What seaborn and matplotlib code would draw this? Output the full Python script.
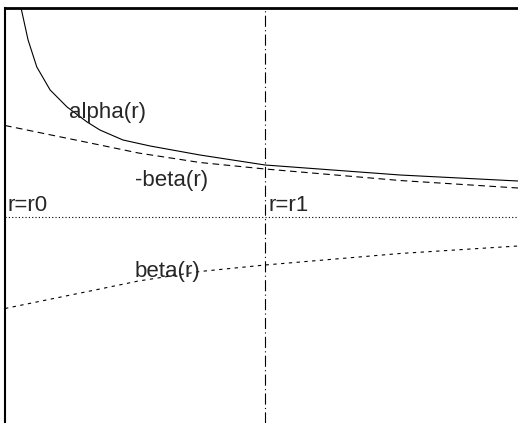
import pandas as pd
import matplotlib.pyplot as plt
import seaborn as sns

# curve samples (r in arbitrary units, r1 ~ 5.07)
r_alpha = [0.30, 0.45, 0.62, 0.88, 1.21, 1.60, 1.85, 2.30, 2.83, 3.80, 5.07, 7.70, 10.0]
alpha = [2.12, 1.77, 1.50, 1.27, 1.10, 0.95, 0.87, 0.77, 0.71, 0.62, 0.52, 0.42, 0.36]

r_beta = [0.0, 0.9, 1.85, 2.6, 3.8, 5.07, 7.7, 10.0]
beta = [-0.915, -0.82, -0.72, -0.64, -0.545, -0.48, -0.365, -0.29]

r0_level = 0.0
r1 = 5.07

sns.set_style("white")
plt.rcParams["font.family"] = ["Liberation Sans", "DejaVu Sans"]

fig = plt.figure(figsize=(5.18, 4.23), dpi=100)
ax = fig.add_axes([5 / 518, 0.0, 1 - 5 / 518, 1 - 8 / 423])

df_alpha = pd.DataFrame({"r": r_alpha, "v": alpha})
df_beta = pd.DataFrame({"r": r_beta, "v": beta})
df_mbeta = pd.DataFrame({"r": r_beta, "v": [-b for b in beta]})

sns.lineplot(data=df_alpha, x="r", y="v", ax=ax, color="black", lw=0.8)
sns.lineplot(data=df_mbeta, x="r", y="v", ax=ax, color="black", lw=0.8,
             linestyle=(0, (6, 4)))
sns.lineplot(data=df_beta, x="r", y="v", ax=ax, color="black", lw=0.8,
             linestyle=(0, (3, 4)))

ax.axhline(r0_level, color="black", lw=0.8, linestyle=(0, (1, 2)))
ax.axvline(r1, color="black", lw=0.8, linestyle=(0, (10, 3, 1, 3)))

ax.text(1.25, 1.05, "alpha(r)", fontsize=16, va="center", ha="left")
ax.text(2.53, 0.37, "-beta(r)", fontsize=16, va="center", ha="left")
ax.text(2.53, -0.54, "beta(r)", fontsize=16, va="center", ha="left")
ax.text(0.04, 0.01, "r=r0", fontsize=16, va="bottom", ha="left")
ax.text(5.13, 0.01, "r=r1", fontsize=16, va="bottom", ha="left")

ax.set_xlim(0, 10)
ax.set_ylim(-2.06, 2.09)
ax.set_xticks([])
ax.set_yticks([])
ax.set_xlabel("")
ax.set_ylabel("")
ax.spines["right"].set_visible(False)
ax.spines["bottom"].set_visible(False)
ax.spines["top"].set_linewidth(2)
ax.spines["left"].set_linewidth(1.5)
ax.spines["top"].set_color("black")
ax.spines["left"].set_color("black")

plt.savefig("out.png", dpi=100)
plt.close()
